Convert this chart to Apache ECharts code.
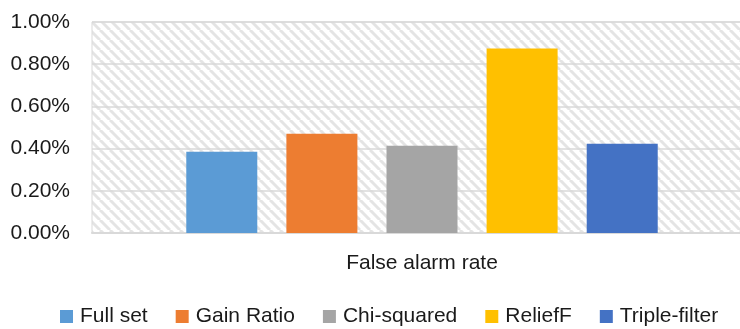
<!DOCTYPE html>
<html>
<head>
<meta charset="utf-8">
<script src="https://cdn.jsdelivr.net/npm/echarts@6/dist/echarts.min.js"></script>
<style>
  html, body { margin: 0; padding: 0; background: #ffffff; }
  #chart { width: 740px; height: 329px; }
</style>
</head>
<body>
<div id="chart"></div>
<script>
// Category and values (percent)
const categories = ['False alarm rate'];
const seriesNames = ['Full set', 'Gain Ratio', 'Chi-squared', 'ReliefF', 'Triple-filter'];
const fullSet = [0.385];
const gainRatio = [0.470];
const chiSquared = [0.413];
const reliefF = [0.874];
const tripleFilter = [0.423];
const seriesColors = ['#5B9BD5', '#ED7D31', '#A5A5A5', '#FFC000', '#4472C4'];
const seriesValues = [fullSet, gainRatio, chiSquared, reliefF, tripleFilter];

const FONT = '"Liberation Sans Narrow", "Liberation Sans", Arial, sans-serif';

// Diagonal hatch tile for the plot-area background
const tile = document.createElement('canvas');
tile.width = 10; tile.height = 10;
const tctx = tile.getContext('2d');
tctx.fillStyle = '#ffffff';
tctx.fillRect(0, 0, 10, 10);
tctx.strokeStyle = '#e4e4e4';
tctx.lineWidth = 3;
[-10, 0, 10].forEach(function (o) {
  tctx.beginPath();
  tctx.moveTo(o, 0);
  tctx.lineTo(o + 10, 10);
  tctx.stroke();
});

const chart = echarts.init(document.getElementById('chart'), null, { renderer: 'canvas' });

chart.setOption({
  animation: false,
  backgroundColor: '#ffffff',
  textStyle: { fontFamily: FONT },
  grid: {
    show: true,
    left: 92, width: 660, top: 22, bottom: 96,
    outerBoundsMode: 'none',
    containLabel: false,
    backgroundColor: { image: tile, repeat: 'repeat' },
    borderColor: '#d9d9d9',
    borderWidth: 1
  },
  legend: {
    bottom: 2,
    left: 60,
    padding: 0,
    icon: 'rect',
    itemWidth: 13,
    itemHeight: 13,
    itemGap: 28,
    data: seriesNames,
    textStyle: { fontFamily: FONT, fontSize: 21, color: '#1a1a1a', padding: [0, 0, 0, 2] }
  },
  xAxis: {
    type: 'category',
    data: categories,
    axisTick: { show: false },
    axisLine: { lineStyle: { color: '#d9d9d9', width: 2 } },
    axisLabel: { fontFamily: FONT, fontSize: 21, color: '#1a1a1a', margin: 20 }
  },
  yAxis: {
    type: 'value',
    min: 0, max: 1, interval: 0.2,
    axisLine: { show: false },
    axisTick: { show: false },
    splitLine: { lineStyle: { color: '#d9d9d9', width: 1.5 } },
    axisLabel: {
      fontFamily: FONT, fontSize: 21, color: '#1a1a1a', margin: 22,
      formatter: function (v) { return v.toFixed(2) + '%'; }
    }
  },
  series: seriesNames.map(function (name, i) {
    return {
      name: name,
      type: 'bar',
      data: seriesValues[i],
      barWidth: 71,
      barGap: '41%',
      itemStyle: { color: seriesColors[i] }
    };
  })
});
</script>
</body>
</html>
